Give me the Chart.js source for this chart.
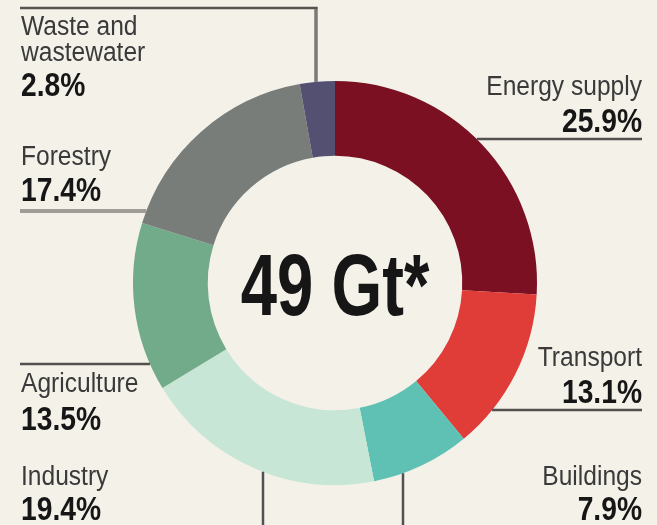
<!DOCTYPE html>
<html>
<head>
<meta charset="utf-8">
<script src="https://cdn.jsdelivr.net/npm/chart.js@4"></script>
<style>
html,body{margin:0;padding:0;background:#F4F1E9;}
#wrap{width:657px;height:525px;}
</style>
</head>
<body>
<div id="wrap"><canvas id="c" width="657" height="525"></canvas></div>
<script>
const categories = ["Energy supply","Transport","Buildings","Industry","Agriculture","Forestry","Waste and wastewater"];
const labelLines = [["Energy supply"],["Transport"],["Buildings"],["Industry"],["Agriculture"],["Forestry"],["Waste and","wastewater"]];
const shares = [25.9, 13.1, 7.9, 19.4, 13.5, 17.4, 2.8];
const colors = ["#7A1022","#E03C38","#5EC1B3","#C8E6D6","#71AB89","#787D7A","#545071"];
const centerText = "49 Gt*";

// label layout: side, text x, first-line baseline, percent baseline, leader line spec
const layout = [
  {align:"right", x:642, y:95,  py:132, line:{type:"h", at:139, to:642, c:"#525050", w:2.5}},
  {align:"right", x:642, y:366, py:403, line:{type:"h", at:410, to:642, c:"#525050", w:2.5}},
  {align:"right", x:642, y:485, py:520, line:{type:"v", at:403, c:"#525050", w:2.5}},
  {align:"left",  x:21,  y:485, py:520, line:{type:"v", at:263, c:"#525050", w:2.5}},
  {align:"left",  x:21,  y:392, py:430, line:{type:"h", at:364, to:20, c:"#525050", w:2.5}},
  {align:"left",  x:21,  y:165, py:201, line:{type:"h", at:211, to:20, c:"#A09C97", w:4}},
  {align:"left",  x:21,  y:35,  py:96,  line:{type:"elbow", at:316, top:8, to:20, c:"#55524F", w:2.5, c2:"#7C7976", w2:3.5}}
];

const fmt = v => v.toFixed(1) + "%";

function drawText(ctx, txt, x, y, align, font, color, sx){
  ctx.save();
  ctx.translate(x, y);
  ctx.scale(sx, 1);
  ctx.font = font;
  ctx.fillStyle = color;
  ctx.textAlign = align;
  ctx.textBaseline = "alphabetic";
  ctx.fillText(txt, 0, 0);
  ctx.restore();
}

const annot = {
  id: "annot",
  beforeDraw(chart){
    const ctx = chart.ctx;
    ctx.save();
    ctx.fillStyle = "#F4F1E9";
    ctx.fillRect(0,0,chart.width,chart.height);
    ctx.restore();
  },
  afterDraw(chart){
    const ctx = chart.ctx;
    const arc = chart.getDatasetMeta(0).data[0];
    const cx = arc.x, cy = arc.y, r = arc.outerRadius;
    ctx.save();
    layout.forEach((L, i) => {
      const ln = L.line;
      ctx.strokeStyle = ln.c;
      ctx.lineWidth = ln.w;
      ctx.beginPath();
      if (ln.type === "h") {
        const dx = Math.sqrt(Math.max(0, r*r - (ln.at-cy)*(ln.at-cy)));
        const xe = L.align === "right" ? cx + dx : cx - dx;
        ctx.moveTo(ln.to, ln.at); ctx.lineTo(xe, ln.at);
        ctx.stroke();
      } else if (ln.type === "v") {
        const dy = Math.sqrt(Math.max(0, r*r - (ln.at-cx)*(ln.at-cx)));
        ctx.moveTo(ln.at, cy + dy); ctx.lineTo(ln.at, chart.height);
        ctx.stroke();
      } else {
        const dy = Math.sqrt(Math.max(0, r*r - (ln.at-cx)*(ln.at-cx)));
        ctx.moveTo(ln.to, ln.top); ctx.lineTo(ln.at + ln.w2/2, ln.top);
        ctx.stroke();
        ctx.strokeStyle = ln.c2; ctx.lineWidth = ln.w2;
        ctx.beginPath();
        ctx.moveTo(ln.at, ln.top + 1); ctx.lineTo(ln.at, cy - dy);
        ctx.stroke();
      }
      labelLines[i].forEach((t, k) => {
        drawText(ctx, t, L.x, L.y + k*26, L.align, "27px 'Liberation Sans', Arial, sans-serif", "#3a3a3a", 0.91);
      });
      drawText(ctx, fmt(shares[i]), L.x, L.py, L.align, "bold 34px 'Liberation Sans', Arial, sans-serif", "#161616", 0.83);
    });
    // centre total
    drawText(ctx, centerText, cx, cy + 32, "center", "bold 87px 'Liberation Sans', Arial, sans-serif", "#161616", 0.75);
    ctx.restore();
  }
};

new Chart(document.getElementById("c"), {
  type: "doughnut",
  data: {
    labels: categories,
    datasets: [{
      data: shares,
      backgroundColor: colors,
      borderWidth: 0,
      hoverOffset: 0
    }]
  },
  options: {
    responsive: false,
    animation: false,
    cutout: "63%",
    rotation: 0,
    layout: { padding: { left: 133, top: 81, right: 120, bottom: 40 } },
    plugins: { legend: { display: false }, tooltip: { enabled: false } },
    events: []
  },
  plugins: [annot]
});
</script>
</body>
</html>
